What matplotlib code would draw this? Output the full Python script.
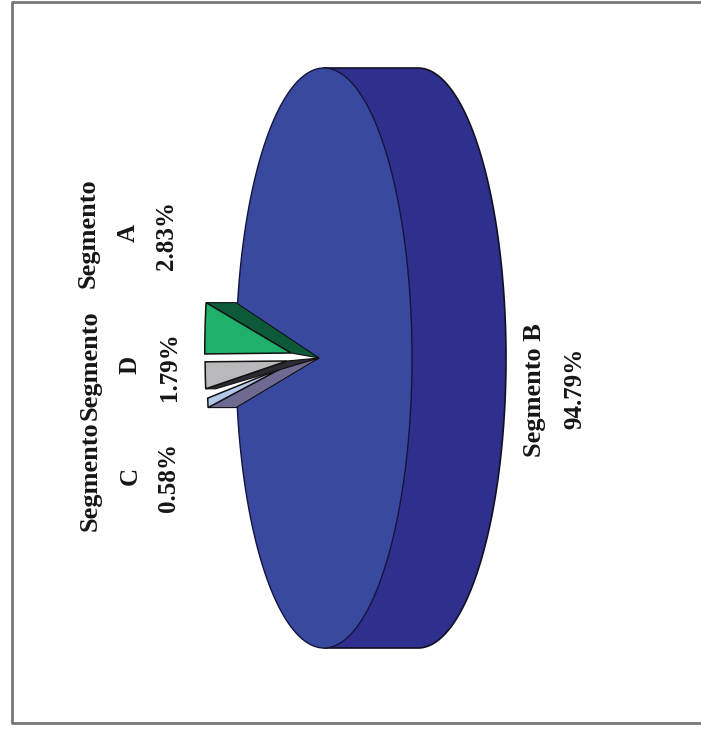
import numpy as np
import matplotlib
matplotlib.use("Agg")
import matplotlib.pyplot as plt

# Pie data, share of each segment (%)
segments = ["Segmento A", "Segmento D", "Segmento C", "Segmento B"]
shares = [2.83, 1.79, 0.58, 94.79]
share_labels = ["2.83%", "1.79%", "0.58%", "94.79%"]

# Geometry of the tilted pie, in image pixels
cx, cy = 324, 358
rx, ry = 88, 290
depth = 94
start_angle = 10.0  # degrees, measured from the left end of the ellipse

serif = "Liberation Serif"


def rim(theta):
    t = np.radians(theta)
    return rx * np.cos(t), ry * np.sin(t)


fig = plt.figure(figsize=(7.01, 7.31), dpi=100)
ax = fig.add_axes([0, 0, 1, 1])
ax.set_xlim(0, 701)
ax.set_ylim(731, 0)
ax.axis("off")

# Frame round the chart
ax.plot([701, 11.5, 11.5, 701], [2, 2, 723, 723], color="#777777", lw=2, zorder=1)

# Slice limits, going clockwise from the start angle
sweeps = np.array(shares) / sum(shares) * 360
edges = start_angle - np.concatenate([[0], np.cumsum(sweeps)])

# Side wall of the pie
t = np.linspace(-90, 90, 300)
wall_x = cx + depth + rx * np.cos(np.radians(t))
wall_y = cy + ry * np.sin(np.radians(t))
ax.fill(np.r_[cx, wall_x, cx], np.r_[cy - ry, wall_y, cy + ry],
        facecolor="#2f2f8e", edgecolor="#111122", lw=1.2, zorder=2)

# Big slice, with the notch left by the pulled out slices
apex = (319, 358)
big = np.linspace(edges[3] + 0.4, edges[4] - 1.0, 600)
bx, by = rim(big)
ax.fill(np.r_[apex[0], cx - bx], np.r_[apex[1], cy - by],
        facecolor="#3a49a0", edgecolor="#14143c", lw=1.0, zorder=3)

# Small pulled out slices: face colour, side colour, face apex, scale of the face, side width
small = [
    (0, "#1fb06c", "#0d5a3a", (291, 353), (0.98, 1.0), 30),
    (1, "#b9b9bb", "#2b2b33", (287, 361), (0.93, 0.83), 10),
    (2, "#b4c8ec", "#6f6a92", (282, 368), (0.85, 0.9), 28),
]
for i, face, side, tip, (sx, sy), w in reversed(small):
    a0, a1 = edges[i], edges[i + 1]
    px, py = rim(np.linspace(a0, a1, 30))
    x, y = tip[0] - sx * px, tip[1] - sy * py
    # the cut wall that shows beside the face, it runs in to the pie apex
    k = 0 if i == 0 else -1
    wall = [(x[k], y[k]), (x[k] + w, y[k]), apex, tip]
    ax.fill(*zip(*wall), facecolor=side, edgecolor="#111111", lw=0.8, zorder=7 - i)
    ax.fill(np.r_[tip[0], x], np.r_[tip[1], y], facecolor=face,
            edgecolor="#111111", lw=1.1, zorder=8 - i)

# Labels are rotated along with the whole chart
txt = dict(family=serif, weight="bold", fontsize=18, rotation=90,
           ha="center", va="center", color="#161616", zorder=10)
name_y = [233, 365, 476]
for i, yy in enumerate(name_y):
    word, letter = segments[i].split()
    ax.text(88 + (i > 0) * 2, yy, word, **{**txt, "fontsize": 19})
    ax.text(128 + (i > 0) * 2, yy, letter, **txt)
    ax.text(166 + (i > 0) * 3, yy + 2, share_labels[i], **txt)
ax.text(535, 390, segments[3], **{**txt, "fontsize": 19})
ax.text(575, 388, share_labels[3], **txt)

fig.savefig("out.png", dpi=100)
